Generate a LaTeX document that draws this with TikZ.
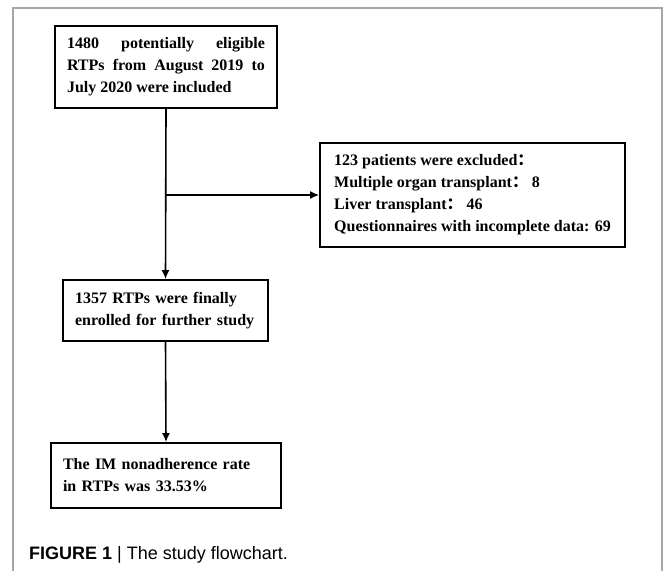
\documentclass[tikz,border=0pt]{standalone}
\usepackage{fontspec}
\setmainfont{Liberation Serif}
\newfontfamily\capfont{Liberation Sans}
\newfontfamily\cjk{Noto Sans CJK SC}
\usetikzlibrary{arrows.meta}
\hyphenpenalty=10000
\tolerance=9999
\tikzset{
    cell/.style = {rectangle, draw=black, line width=1.8pt, inner xsep=12pt, inner ysep=4pt,
                   font=\fontsize{16}{22}\selectfont\bfseries},
    edgen/.style = {-{Latex[length=9pt,width=8pt]}, line width=1.6pt},
    frame/.style = {draw=black!35, line width=1.3pt}
}

\begin{document}
\begin{tikzpicture}[x=1pt,y=1pt]
  \useasboundingbox (0,0) rectangle (663,-571);
  \draw[frame] (13,-571) -- (13,-8) -- (662,-8) -- (662,-571);
  \node (start) at (166,-67) [cell,text width=198pt,minimum height=82pt,align=justify]
    {1480 potentially eligible\linebreak RTPs from August 2019 to\linebreak July 2020 were included};
  \node (excl) at (472.5,-195) [cell,minimum width=305pt,minimum height=104pt,align=left]
    {123 patients were excluded{\cjk ：}\\
     Multiple organ transplant{\cjk ：}\ 8\\
     Liver transplant{\cjk ：}\ 46\\
     Questionnaires with incomplete data: 69};
  \node (enrol) at (165.5,-310.5) [cell,text width=181pt,minimum height=61pt,align=left]
    {1357 RTPs were finally\\ enrolled for further study};
  \node (result) at (166,-475.5) [cell,text width=206pt,minimum height=65pt,align=left]
    {The IM nonadherence rate\\ in RTPs was 33.53\%};
  \coordinate (branch) at (start.south |- excl.west);
  \draw[edgen] (start.south) -- (enrol.north);
  \draw[edgen] (branch) -- (excl.west);
  \draw[edgen] (enrol.south) -- (result.north);
  % caption
  \node (caption) at (29,-559) [anchor=base west,inner sep=0pt,font=\capfont\fontsize{18}{22}\selectfont]
    {\textbf{FIGURE 1} | The study flowchart.};
\end{tikzpicture}
\end{document}
